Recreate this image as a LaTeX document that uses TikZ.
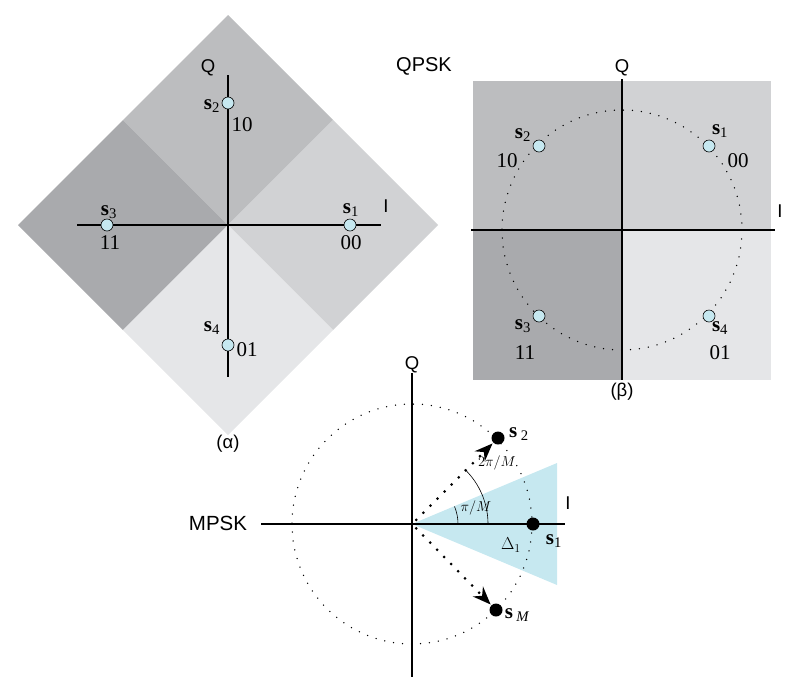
\documentclass[tikz,border=0pt]{standalone}
\usepackage{fontspec}
\setmainfont{Liberation Serif}
\setsansfont{Liberation Sans}
\usetikzlibrary{arrows.meta}

\definecolor{regA}{HTML}{BCBDBF}
\definecolor{regB}{HTML}{D1D2D4}
\definecolor{regC}{HTML}{A9AAAD}
\definecolor{regD}{HTML}{E5E6E8}
\definecolor{ptfill}{HTML}{C6E8F0}

\newcommand{\sg}[1]{\textbf{s}\textsubscript{#1}}

\begin{document}
\begin{tikzpicture}[x=1pt, y=-1pt, >=Stealth,
  axis/.style={line width=1.6pt},
  lbl/.style={font=\fontsize{21}{24}\selectfont, inner sep=0pt},
  ax/.style={font=\sffamily\fontsize{18.5}{22}\selectfont, inner sep=0pt},
  pt/.style={circle, draw, line width=0.6pt, fill=ptfill, inner sep=0pt, minimum size=12pt},
  bpt/.style={circle, fill=black, inner sep=0pt, minimum size=13pt},
  finedots/.style={line width=1.5pt, line cap=round, dash pattern=on 0pt off 9pt},
  bigdots/.style={line width=3pt, line cap=round, dash pattern=on 0pt off 10pt}]

\useasboundingbox (0,0) rectangle (791,678);

% (a) rotated regions, s1..s4 on the axes
\coordinate (ca) at (228,225);
\fill[regA] (ca) -- (123,120) -- (228,15) -- (333,120) -- cycle;
\fill[regC] (ca) -- (123,120) -- (18,225) -- (123,330) -- cycle;
\fill[regB] (ca) -- (333,120) -- (438,225) -- (333,330) -- cycle;
\fill[regD] (ca) -- (123,330) -- (228,435) -- (333,330) -- cycle;
\coordinate (qa1) at (228,75);  \coordinate (qa2) at (228,377);
\coordinate (ia1) at (77,225);  \coordinate (ia2) at (381,225);
\draw[axis] (qa1) -- (qa2);
\draw[axis] (ia1) -- (ia2);
\node[ax] (qa) at (208,68) {Q};
\node[ax] (ia) at (386,206) {I};
\node[pt] (a1) at (350,225) {};
\node[pt] (a2) at (228,103) {};
\node[pt] (a3) at (107,225) {};
\node[pt] (a4) at (228,345) {};
\node[lbl] (a1s) at (351,210) {\sg{1}};
\node[lbl] (a1b) at (351,243) {00};
\node[lbl] (a2s) at (212,106) {\sg{2}};
\node[lbl] (a2b) at (242,125) {10};
\node[lbl] (a3s) at (109,212) {\sg{3}};
\node[lbl] (a3b) at (110,243) {11};
\node[lbl] (a4s) at (212,328) {\sg{4}};
\node[lbl] (a4b) at (247,350) {01};
\node[ax] (capa) at (228,444) {(α)};

% (b) QPSK square
\coordinate (cb) at (622,230);
\fill[regA] (473,81) rectangle (cb);
\fill[regB] (771,81) rectangle (cb);
\fill[regC] (473,380) rectangle (cb);
\fill[regD] (771,380) rectangle (cb);
\draw[finedots] (cb) circle[radius=120];
\coordinate (qb1) at (622,79);  \coordinate (qb2) at (622,380);
\coordinate (ib1) at (471,230); \coordinate (ib2) at (775,230);
\draw[axis] (qb1) -- (qb2);
\draw[axis] (ib1) -- (ib2);
\node[ax] (qb) at (622,68) {Q};
\node[ax] (ib) at (780,211) {I};
\node[ax, font=\sffamily\fontsize{20}{24}\selectfont] (qpsk) at (424,66) {QPSK};
\node[pt] (b1) at (709,146) {};
\node[pt] (b2) at (539,146) {};
\node[pt] (b3) at (539,316) {};
\node[pt] (b4) at (709,316) {};
\node[lbl] (b1s) at (720,131) {\sg{1}};
\node[lbl] (b1b) at (738,161) {00};
\node[lbl] (b2s) at (523,135) {\sg{2}};
\node[lbl] (b2b) at (507,161) {10};
\node[lbl] (b3s) at (523,326) {\sg{3}};
\node[lbl] (b3b) at (525,353) {11};
\node[lbl] (b4s) at (720,328) {\sg{4}};
\node[lbl] (b4b) at (720,353) {01};
\node[ax] (capb) at (622,392) {(β)};

% MPSK with decision sector of s1
\coordinate (o) at (412,524);
\fill[ptfill] (o) -- (557,463) -- (557,585) -- cycle;
\draw[finedots] (o) circle[radius=120];
\coordinate (qc1) at (412,373); \coordinate (qc2) at (412,677);
\coordinate (ic1) at (261,524); \coordinate (ic2) at (565,524);
\draw[axis] (qc1) -- (qc2);
\draw[axis] (ic1) -- (ic2);
\node[ax] (qc) at (412,365) {Q};
\node[ax] (ic) at (568,503) {I};
\node[ax, font=\sffamily\fontsize{20.5}{24}\selectfont] (mpsk) at (218,523) {MPSK};
\node[bpt] (m1) at (533,524) {};
\node[bpt] (m2) at (498,438) {};
\node[bpt] (mM) at (496,610) {};
\draw[bigdots, shorten <=6pt, shorten >=1pt, -{Stealth[length=18pt, width=14pt]}] (o) -- (m2);
\draw[bigdots, shorten <=6pt, shorten >=1pt, -{Stealth[length=18pt, width=14pt]}] (o) -- (mM);
\draw[line width=0.6pt] (o) ++(0:46) arc[start angle=0, end angle=-22.5, radius=46];
\draw[line width=0.6pt] (o) ++(0:76) arc[start angle=0, end angle=-46, radius=76];
\node[font=\fontsize{14}{16}\selectfont, inner sep=0pt] (ang1) at (476,508) {$\pi/M$};
\node[font=\fontsize{14}{16}\selectfont, inner sep=0pt] (ang2) at (497,463) {$2\pi/M$};
\node[font=\fontsize{17}{20}\selectfont, inner sep=0pt] (del) at (511,545) {$\Delta_1$};
\node[lbl] (m1s) at (554,541) {\sg{1}};
\node[lbl] (m2s) at (519,434) {\textbf{s}\,\textsubscript{2}};
\node[lbl] (mMs) at (517,615) {\textbf{s}\,\textsubscript{\itshape M}};

\end{tikzpicture}
\end{document}
